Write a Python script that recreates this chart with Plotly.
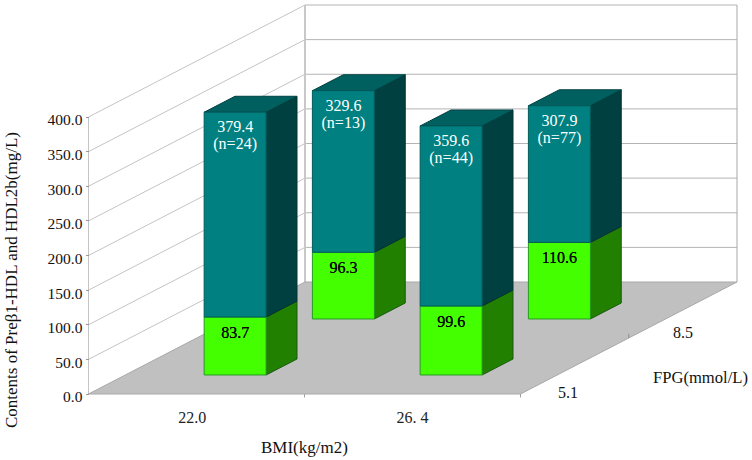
import plotly.graph_objects as go

# ---- data ----
bmi_labels = ["22.0", "26. 4"]
fpg_labels = ["5.1", "8.5"]
y_ticks = [0, 50, 100, 150, 200, 250, 300, 350, 400]
y_tick_labels = ["0.0", "50.0", "100.0", "150.0", "200.0", "250.0", "300.0", "350.0", "400.0"]
# drawn back row first so nearer bars paint over farther ones
bar_bmi = [0, 1, 0, 1]
bar_fpg = [1, 1, 0, 0]
green_values = [96.3, 110.6, 83.7, 99.6]
total_values = [329.6, 307.9, 379.4, 359.6]
bar_n = [13, 77, 24, 44]

# ---- styles / geometry of the oblique view ----
W, H = 752, 460
OX, OY = 88.5, 394.0       # pixel of BMI=0, value=0, front
PX_PER_BMI = 216.0
PX_PER_VAL = 277.0 / 400
ROW_DX, ROW_DY = 108.25, 56.0   # pixel shift of one FPG row
SHIFT_X = ROW_DX / PX_PER_BMI
SHIFT_V = ROW_DY / PX_PER_VAL
BAR_W, BAR_OFF = 0.287, 0.365
DEPTH_START, DEPTH = 0.34, 0.285
SERIF = "Liberation Serif"
GRID = "#b4b4b4"


def proj(x, d, v):
    """oblique projection to the 2D axis units"""
    return x + d * SHIFT_X, v + d * SHIFT_V


def poly(pts, fill, line, width=1):
    xs, ys = zip(*[proj(*p) for p in pts + pts[:1]])
    return go.Scatter(x=xs, y=ys, mode="lines", fill="toself", fillcolor=fill,
                      line=dict(color=line, width=width), hoverinfo="skip", showlegend=False)


def segment(a, b, color=GRID, width=1):
    xs, ys = zip(proj(*a), proj(*b))
    return go.Scatter(x=xs, y=ys, mode="lines", line=dict(color=color, width=width),
                      hoverinfo="skip", showlegend=False)


def label(x, y, text, color, shadow="none"):
    return go.Scatter(x=[x], y=[y], mode="text", text=[text], textposition="middle center",
                      hoverinfo="skip", showlegend=False,
                      textfont=dict(family=SERIF, size=16, color=color, shadow=shadow))


fig = go.Figure()
n_bmi, n_fpg = len(bmi_labels), len(fpg_labels)
top = y_ticks[-1]

# walls
for v in y_ticks[1:]:
    fig.add_trace(segment((0, 0, v), (0, n_fpg, v), "#c4c4c4"))
    fig.add_trace(segment((0, n_fpg, v), (n_bmi, n_fpg, v)))
fig.add_trace(segment((0, 0, 0), (0, 0, top), "#c4c4c4"))
fig.add_trace(segment((0, n_fpg, 0), (0, n_fpg, top), "#c8c8c8", 2))
fig.add_trace(segment((n_bmi, n_fpg, 0), (n_bmi, n_fpg, top), "#a8a8a8"))

# floor
fig.add_trace(poly([(0, 0, 0), (n_bmi, 0, 0), (n_bmi, n_fpg, 0), (0, n_fpg, 0)], "#c0c0c0", "#a8a8a8"))
fig.add_trace(segment((n_bmi, 0, 0), (n_bmi, 0, -5), "#a0a0a0"))
fig.add_trace(segment((1, 0, 0), (1, 0, -5), "#a0a0a0"))
fig.add_trace(segment((n_bmi, 1, 0), (n_bmi, 1, 6), "#909090"))

# bars
for i, j, g, t in zip(bar_bmi, bar_fpg, green_values, total_values):
    x0 = i + BAR_OFF
    x1 = x0 + BAR_W
    d0 = j + DEPTH_START
    d1 = d0 + DEPTH
    fig.add_trace(poly([(x1, d0, 0), (x1, d1, 0), (x1, d1, g), (x1, d0, g)], "#218000", "#1a5a10"))
    fig.add_trace(poly([(x1, d0, g), (x1, d1, g), (x1, d1, t), (x1, d0, t)], "#004040", "#003030"))
    fig.add_trace(poly([(x0, d0, t), (x1, d0, t), (x1, d1, t), (x0, d1, t)], "#006060", "#004040"))
    fig.add_trace(poly([(x0, d0, 0), (x1, d0, 0), (x1, d0, g), (x0, d0, g)], "#44ff00", "#259a20"))
    fig.add_trace(poly([(x0, d0, g), (x1, d0, g), (x1, d0, t), (x0, d0, t)], "#008080", "#005a5a"))

# value labels on the front faces (two lines kept tight, as in the original)
for i, j, g, t, n in zip(bar_bmi, bar_fpg, green_values, total_values, bar_n):
    xc = i + BAR_OFF + BAR_W / 2
    d0 = j + DEPTH_START
    lx, ly = proj(xc, d0, t - 16 / PX_PER_VAL)
    fig.add_trace(label(lx, ly, f"{t:.1f}", "white"))
    lx, ly = proj(xc, d0, t - 33 / PX_PER_VAL)
    fig.add_trace(label(lx, ly, f"(n={n})", "white"))
    lx, ly = proj(xc, d0, g - 17 / PX_PER_VAL)
    fig.add_trace(label(lx, ly, f"{g:.1f}", "#050a05", "0 0 0.6px #000000"))

x_range = [-OX / PX_PER_BMI, (W - OX) / PX_PER_BMI]
y_range = [(OY - H) / PX_PER_VAL, OY / PX_PER_VAL]


def px_note(text, x, y, size=16, angle=0):
    return dict(text=text, xref="paper", yref="paper", x=x / W, y=1 - y / H, xanchor="center",
                yanchor="middle", showarrow=False, textangle=angle,
                font=dict(family=SERIF, size=size, color="#111111"))


fig.update_layout(
    width=W, height=H, margin=dict(l=0, r=0, t=0, b=0), autosize=False,
    paper_bgcolor="white", plot_bgcolor="white", showlegend=False,
    xaxis=dict(range=x_range, domain=[0, 1], anchor="free", position=(H - OY) / H, showgrid=False,
               zeroline=False, showline=False, tickmode="array", tickvals=[0.48, 1.5],
               ticktext=bmi_labels, ticks="outside", ticklen=9, tickcolor="rgba(0,0,0,0)",
               tickfont=dict(family=SERIF, size=16, color="#222222"), fixedrange=True),
    yaxis=dict(range=y_range, domain=[0, 1], anchor="free", position=OX / W, showgrid=False,
               zeroline=False, showline=False, tickmode="array", tickvals=y_ticks,
               ticktext=y_tick_labels, ticks="outside", ticklen=3, tickcolor="#999999",
               ticklabelshift=3,
               tickfont=dict(family=SERIF, size=15.5, color="#111111"), fixedrange=True),
    annotations=[
        px_note("Contents of Preβ1-HDL and HDL2b(mg/L)", 11, 280, 17, -90),
        px_note("BMI(kg/m2)", 304, 447, 17),
        px_note("FPG(mmol/L)", 700, 377, 16.6),
        px_note(fpg_labels[0], 568, 392),
        px_note(fpg_labels[1], 683, 332),
    ],
)

fig.write_html("out.html", config={"displayModeBar": False},
               post_script="document.body.style.margin='0';")
